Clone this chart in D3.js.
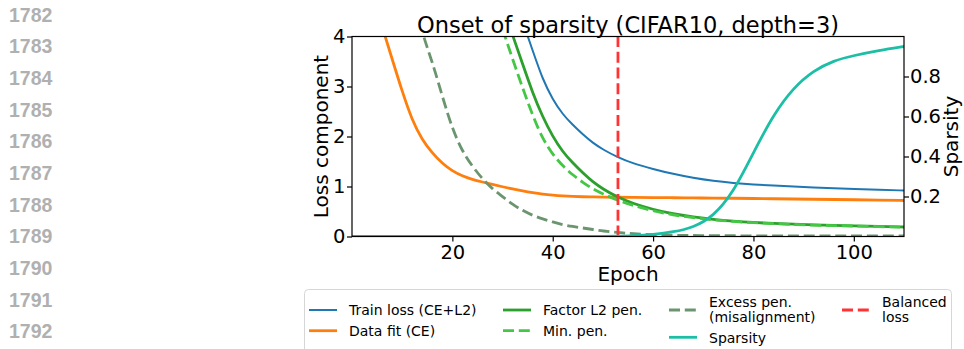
<!DOCTYPE html>
<html>
<head>
<meta charset="utf-8">
<script src="https://cdn.jsdelivr.net/npm/d3@7"></script>
<style>
  body { margin: 0; background: #fff; }
  svg { display: block; font-family: "DejaVu Sans", sans-serif; }
</style>
</head>
<body>
<div id="chart"></div>
<script>
(function() {
  // values, null = above the top of the plot
  var epochs    = [0, 2, 4, 6, 8, 10, 12, 14, 16, 18, 20, 22, 24, 26, 28, 30, 32, 34, 36, 38, 40, 42, 44, 46, 48, 50, 53, 56, 60, 64, 68, 72, 76, 80, 84, 88, 92, 96, 100, 105, 110];
  var trainLoss = [null, null, null, null, null, null, null, null, null, null, null, null, null, null, null, null, null, 4.3, 3.72, 3.14, 2.74, 2.44, 2.23, 2.04, 1.87, 1.74, 1.58, 1.46, 1.35, 1.25, 1.17, 1.11, 1.07, 1.04, 1.02, 1.0, 0.98, 0.965, 0.95, 0.935, 0.92];
  var dataFit   = [null, null, null, 4.2, 3.55, 2.9, 2.32, 1.93, 1.67, 1.46, 1.31, 1.21, 1.14, 1.09, 1.04, 0.995, 0.95, 0.91, 0.875, 0.845, 0.825, 0.81, 0.8, 0.795, 0.79, 0.79, 0.785, 0.78, 0.78, 0.775, 0.77, 0.77, 0.765, 0.76, 0.755, 0.75, 0.745, 0.74, 0.735, 0.73, 0.72];
  var factorPen = [null, null, null, null, null, null, null, null, null, null, null, null, null, null, null, null, 4.03, 3.45, 2.87, 2.39, 2.0, 1.69, 1.47, 1.27, 1.09, 0.95, 0.78, 0.66, 0.54, 0.45, 0.39, 0.34, 0.305, 0.28, 0.26, 0.245, 0.233, 0.222, 0.213, 0.2, 0.19];
  var minPen    = [null, null, null, null, null, null, null, null, null, null, null, null, null, null, null, 4.15, 3.55, 2.97, 2.42, 1.95, 1.64, 1.41, 1.23, 1.08, 0.95, 0.85, 0.72, 0.62, 0.51, 0.43, 0.375, 0.33, 0.3, 0.275, 0.255, 0.24, 0.228, 0.218, 0.21, 0.197, 0.187];
  var excessPen = [null, null, null, null, null, null, 4.9, 4.05, 3.5, 2.8, 2.15, 1.7, 1.4, 1.15, 0.95, 0.8, 0.64, 0.52, 0.42, 0.35, 0.29, 0.235, 0.2, 0.17, 0.14, 0.11, 0.08, 0.055, 0.035, 0.025, 0.02, 0.017, 0.015, 0.013, 0.012, 0.011, 0.01, 0.01, 0.01, 0.01, 0.01];
  var sparsity  = [0, 0, 0, 0, 0, 0, 0, 0, 0, 0, 0, 0, 0, 0, 0, 0, 0, 0, 0, 0, 0, 0, 0, 0, 0, 0, 0.002, 0.004, 0.01, 0.022, 0.045, 0.1, 0.22, 0.42, 0.61, 0.745, 0.83, 0.88, 0.905, 0.93, 0.95];
  var balancedEpoch = 53;

  var xTicks = [20, 40, 60, 80, 100];
  var lossTicks = [0, 1, 2, 3, 4];
  var sparsityTicks = [0.2, 0.4, 0.6, 0.8];
  var lineNumbers = [1782, 1783, 1784, 1785, 1786, 1787, 1788, 1789, 1790, 1791, 1792];

  var width = 964, height = 349;
  var plot = { left: 352, top: 36.5, right: 904, bottom: 236.5 };
  var dashed = "11,4.8";

  var svg = d3.select("#chart")
    .append("svg")
    .attr("width", width)
    .attr("height", height);

  // manuscript line numbers down the left margin
  svg.selectAll(".lineno")
    .data(lineNumbers)
    .enter().append("text")
    .attr("x", 9)
    .attr("y", function(d, i) { return 21.7 + i * 31.65; })
    .attr("font-family", "Liberation Sans, Arial, sans-serif")
    .attr("font-weight", "bold")
    .attr("font-size", 19.5)
    .attr("fill", "#b0b0b0")
    .text(function(d) { return d; });

  var xScale = d3.scaleLinear().domain([0, 110]).range([plot.left, plot.right]);
  var lossScale = d3.scaleLinear().domain([0, 4]).range([plot.bottom, plot.top]);
  var sparsityScale = d3.scaleLinear().domain([0, 1]).range([plot.bottom, plot.top]);

  svg.append("clipPath")
    .attr("id", "plot-clip")
    .append("rect")
    .attr("x", plot.left)
    .attr("y", plot.top)
    .attr("width", plot.right - plot.left)
    .attr("height", plot.bottom - plot.top);

  function makeLine(scale) {
    return d3.line()
      .defined(function(d) { return d !== null; })
      .x(function(d, i) { return xScale(epochs[i]); })
      .y(function(d) { return scale(d); })
      .curve(d3.curveBasis);
  }

  var lossSeries = [
    { values: trainLoss, color: "#1f77b4", width: 2, dash: null },
    { values: dataFit, color: "#ff7f0e", width: 2.8, dash: null },
    { values: factorPen, color: "#2ca02c", width: 2.8, dash: null },
    { values: minPen, color: "#44c744", width: 2.8, dash: dashed },
    { values: excessPen, color: "#6a956e", width: 2.8, dash: dashed }
  ];

  var g = svg.append("g").attr("clip-path", "url(#plot-clip)");

  g.selectAll(".loss-line")
    .data(lossSeries)
    .enter().append("path")
    .attr("d", function(d) { return makeLine(lossScale)(d.values); })
    .attr("fill", "none")
    .attr("stroke", function(d) { return d.color; })
    .attr("stroke-width", function(d) { return d.width; })
    .attr("stroke-dasharray", function(d) { return d.dash; });

  g.append("line")
    .attr("x1", xScale(balancedEpoch))
    .attr("x2", xScale(balancedEpoch))
    .attr("y1", plot.bottom)
    .attr("y2", plot.top)
    .attr("stroke", "#ff3333")
    .attr("stroke-width", 2.8)
    .attr("stroke-dasharray", dashed);

  g.append("path")
    .attr("d", makeLine(sparsityScale)(sparsity))
    .attr("fill", "none")
    .attr("stroke", "#1cbfa6")
    .attr("stroke-width", 2.8);

  // axes
  function styleAxis(sel) {
    sel.select(".domain").remove();
    sel.attr("font-size", null).attr("font-family", null);
    sel.selectAll("text").attr("font-size", 19.5).attr("fill", "#000");
    sel.selectAll("line").attr("stroke", "#000").attr("stroke-width", 1.2);
  }

  svg.append("g")
    .attr("transform", "translate(0," + plot.bottom + ")")
    .call(d3.axisBottom(xScale).tickValues(xTicks).tickSize(5).tickPadding(3.5))
    .call(styleAxis);

  svg.append("g")
    .attr("transform", "translate(" + plot.left + ",0)")
    .call(d3.axisLeft(lossScale).tickValues(lossTicks).tickFormat(d3.format("d")).tickSize(5).tickPadding(1.5))
    .call(styleAxis);

  svg.append("g")
    .attr("transform", "translate(" + plot.right + ",0)")
    .call(d3.axisRight(sparsityScale).tickValues(sparsityTicks).tickFormat(d3.format(".1f")).tickSize(5).tickPadding(1))
    .call(styleAxis);

  svg.append("rect")
    .attr("x", plot.left)
    .attr("y", plot.top)
    .attr("width", plot.right - plot.left)
    .attr("height", plot.bottom - plot.top)
    .attr("fill", "none")
    .attr("stroke", "#000")
    .attr("stroke-width", 1.2);

  // titles
  svg.append("text")
    .attr("x", (plot.left + plot.right) / 2)
    .attr("y", 32.5)
    .attr("text-anchor", "middle")
    .attr("font-size", 22.5)
    .text("Onset of sparsity (CIFAR10, depth=3)");

  svg.append("text")
    .attr("x", (plot.left + plot.right) / 2)
    .attr("y", 280.5)
    .attr("text-anchor", "middle")
    .attr("font-size", 20)
    .text("Epoch");

  svg.append("text")
    .attr("transform", "translate(328," + (plot.top + plot.bottom) / 2 + ") rotate(-90)")
    .attr("text-anchor", "middle")
    .attr("font-size", 20)
    .text("Loss component");

  svg.append("text")
    .attr("transform", "translate(958," + (plot.top + plot.bottom) / 2 + ") rotate(-90)")
    .attr("text-anchor", "middle")
    .attr("font-size", 20)
    .text("Sparsity");

  // legend
  var legendItems = [
    { label: ["Train loss (CE+L2)"], x: 309, y: 310, color: "#1f77b4", width: 2, dash: null },
    { label: ["Data fit (CE)"], x: 309, y: 330.7, color: "#ff7f0e", width: 2.8, dash: null },
    { label: ["Factor L2 pen."], x: 503, y: 310, color: "#2ca02c", width: 2.8, dash: null },
    { label: ["Min. pen."], x: 503, y: 330.7, color: "#44c744", width: 2.8, dash: dashed },
    { label: ["Excess pen.", "(misalignment)"], x: 669, y: 310, color: "#6a956e", width: 2.8, dash: dashed },
    { label: ["Sparsity"], x: 669, y: 337.3, color: "#1cbfa6", width: 2.8, dash: null },
    { label: ["Balanced", "loss"], x: 842, y: 310, color: "#ff3333", width: 2.8, dash: dashed }
  ];

  svg.append("rect")
    .attr("x", 304.5)
    .attr("y", 289.5)
    .attr("width", 647)
    .attr("height", 75)
    .attr("rx", 4)
    .attr("fill", "#fff")
    .attr("stroke", "#d6d6d6");

  var item = svg.selectAll(".legend-item")
    .data(legendItems)
    .enter().append("g");

  item.append("line")
    .attr("x1", function(d) { return d.x; })
    .attr("x2", function(d) { return d.x + 28; })
    .attr("y1", function(d) { return d.y; })
    .attr("y2", function(d) { return d.y; })
    .attr("stroke", function(d) { return d.color; })
    .attr("stroke-width", function(d) { return d.width; })
    .attr("stroke-dasharray", function(d) { return d.dash; });

  item.append("text")
    .attr("font-size", 14)
    .each(function(d) {
      var t = d3.select(this);
      var first = d.label.length > 1 ? d.y - 2.7 : d.y + 5.3;
      d.label.forEach(function(s, i) {
        t.append("tspan")
          .attr("x", d.x + 40)
          .attr("y", first + i * 14.5)
          .text(s);
      });
    });
})();
</script>
</body>
</html>
